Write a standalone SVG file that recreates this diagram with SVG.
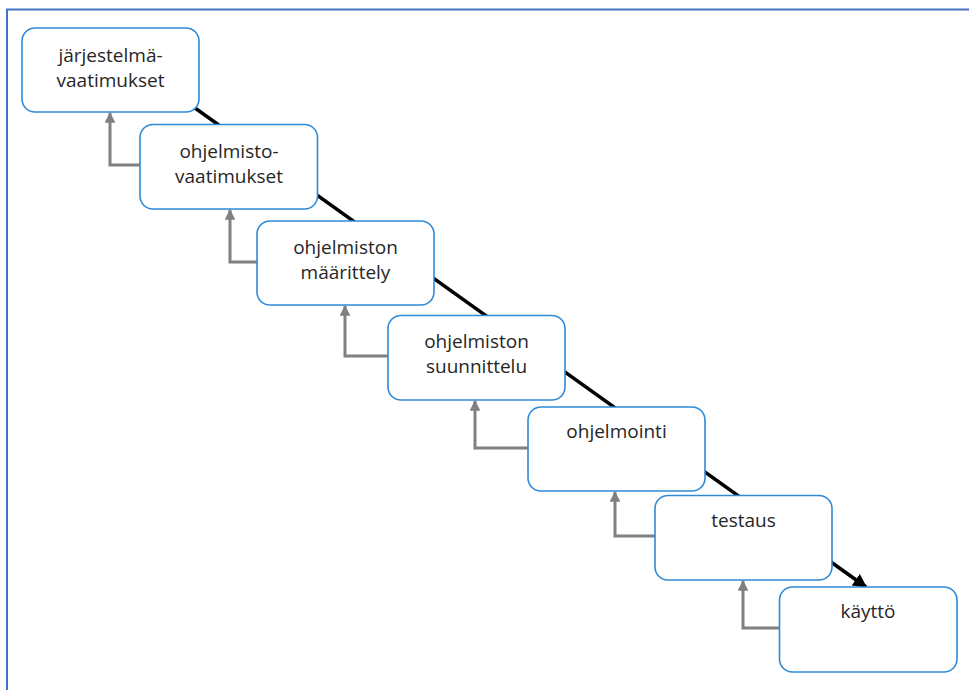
<svg xmlns="http://www.w3.org/2000/svg" width="969" height="690" viewBox="0 0 969 690">
  <style>
    .box { fill: #ffffff; stroke: #2f8ad8; stroke-width: 1.6; }
    .lbl { font-family: "Open Sans", "Liberation Sans", sans-serif; font-size: 19px; fill: #262626; text-anchor: middle; }
    .flow { stroke: #000000; stroke-width: 3.5; fill: none; }
    .back { stroke: #808080; stroke-width: 3; fill: none; }
  </style>
  <defs>
    <marker id="headBlack" viewBox="0 0 10 10" refX="9" refY="5" markerWidth="4" markerHeight="4" orient="auto" markerUnits="strokeWidth">
      <path d="M0,0 L10,5 L0,10 Z" fill="#000000"/>
    </marker>
    <marker id="headGray" viewBox="0 0 10 10" refX="9" refY="5" markerWidth="3.6" markerHeight="3.6" orient="auto" markerUnits="strokeWidth">
      <path d="M0,0 L10,5 L0,10 Z" fill="#808080"/>
    </marker>
  </defs>

  <!-- frame -->
  <path d="M7,690 L7,9.5 L969,9.5" fill="none" stroke="#4472c4" stroke-width="2"/>

  <!-- connectors -->
  <g id="connectors">
    <line class="flow" x1="195" y1="108" x2="866" y2="587" marker-end="url(#headBlack)"/>
    <path class="back" d="M140,165 H110 V113" marker-end="url(#headGray)"/>
    <path class="back" d="M257,262 H230 V210" marker-end="url(#headGray)"/>
    <path class="back" d="M388,356 H345 V306" marker-end="url(#headGray)"/>
    <path class="back" d="M528,448 H475 V401" marker-end="url(#headGray)"/>
    <path class="back" d="M655,536 H615 V492" marker-end="url(#headGray)"/>
    <path class="back" d="M779,628 H743 V581" marker-end="url(#headGray)"/>
  </g>

  <g id="n1">
    <rect class="box" x="22" y="28" width="177" height="84" rx="13"/>
    <text class="lbl" x="110.5" y="62">järjestelmä-</text>
    <text class="lbl" x="110.5" y="87">vaatimukset</text>
  </g>
  <g id="n2">
    <rect class="box" x="140" y="124.5" width="177.5" height="84.5" rx="13"/>
    <text class="lbl" x="229" y="158">ohjelmisto-</text>
    <text class="lbl" x="229" y="183">vaatimukset</text>
  </g>
  <g id="n3">
    <rect class="box" x="257" y="221" width="177" height="84" rx="13"/>
    <text class="lbl" x="345.5" y="254">ohjelmiston</text>
    <text class="lbl" x="345.5" y="279">määrittely</text>
  </g>
  <g id="n4">
    <rect class="box" x="388" y="315.5" width="177" height="84.5" rx="13"/>
    <text class="lbl" x="476.5" y="348">ohjelmiston</text>
    <text class="lbl" x="476.5" y="373">suunnittelu</text>
  </g>
  <g id="n5">
    <rect class="box" x="528" y="407" width="177" height="84" rx="13"/>
    <text class="lbl" x="616.5" y="438">ohjelmointi</text>
  </g>
  <g id="n6">
    <rect class="box" x="655" y="495.5" width="177" height="84.5" rx="13"/>
    <text class="lbl" x="743.5" y="527">testaus</text>
  </g>
  <g id="n7">
    <rect class="box" x="779.5" y="587" width="177.5" height="85" rx="13"/>
    <text class="lbl" x="868" y="618">käyttö</text>
  </g>
</svg>
